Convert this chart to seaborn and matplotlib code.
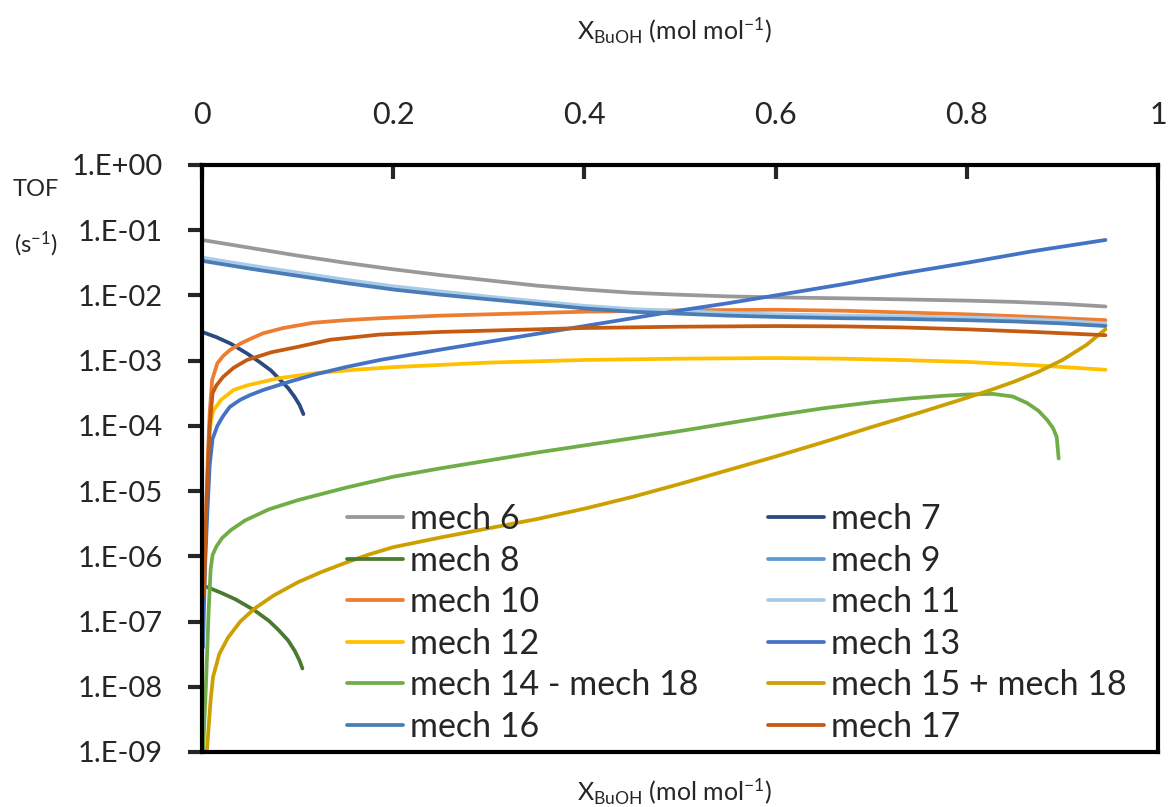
import numpy as np
import pandas as pd
import matplotlib
matplotlib.use("Agg")
import matplotlib.pyplot as plt
from matplotlib.ticker import FixedLocator, FuncFormatter, NullLocator
import seaborn as sns

# values: x = X_BuOH, values are log10(TOF / s-1)
mech6_x = [0.0, 0.05, 0.1, 0.15, 0.2, 0.25, 0.3, 0.35, 0.4, 0.45, 0.5, 0.55, 0.6, 0.67, 0.73, 0.8, 0.85, 0.9, 0.945]
mech6_log = [-1.15, -1.27, -1.39, -1.5, -1.6, -1.69, -1.77, -1.85, -1.91, -1.96, -1.99, -2.015, -2.03, -2.045, -2.06, -2.08, -2.1, -2.13, -2.17]

mech7_x = [0.0, 0.015, 0.03, 0.047, 0.06, 0.072, 0.082, 0.09, 0.097, 0.102, 0.106]
mech7_log = [-2.56, -2.64, -2.74, -2.89, -3.02, -3.15, -3.3, -3.42, -3.56, -3.68, -3.82]

mech8_x = [0.005, 0.02, 0.035, 0.055, 0.07, 0.08, 0.09, 0.097, 0.102, 0.105]
mech8_log = [-6.47, -6.56, -6.66, -6.83, -6.99, -7.13, -7.29, -7.45, -7.6, -7.72]

mech9_x = [0.0, 0.05, 0.1, 0.15, 0.2, 0.25, 0.3, 0.35, 0.4, 0.45, 0.5, 0.55, 0.6, 0.67, 0.73, 0.8, 0.85, 0.9, 0.945]
mech9_log = [-1.45, -1.57, -1.68, -1.79, -1.89, -1.97, -2.04, -2.11, -2.18, -2.23, -2.26, -2.29, -2.31, -2.33, -2.34, -2.36, -2.38, -2.41, -2.45]

mech10_x = [0.002, 0.004, 0.006, 0.008, 0.0105, 0.016, 0.022, 0.029, 0.04, 0.05, 0.064, 0.085, 0.116, 0.15, 0.186, 0.25, 0.3, 0.4, 0.5, 0.6, 0.67, 0.73, 0.8, 0.87, 0.945]
mech10_log = [-6.7, -5.5, -4.5, -3.8, -3.3, -3.04, -2.93, -2.84, -2.74, -2.67, -2.58, -2.5, -2.42, -2.38, -2.35, -2.31, -2.29, -2.25, -2.23, -2.22, -2.235, -2.26, -2.29, -2.33, -2.38]

mech11_x = [0.0, 0.05, 0.1, 0.15, 0.2, 0.25, 0.3, 0.35, 0.4, 0.45, 0.5, 0.55, 0.6, 0.67, 0.73, 0.8, 0.85, 0.9, 0.945]
mech11_log = [-1.42, -1.54, -1.65, -1.76, -1.86, -1.94, -2.02, -2.09, -2.16, -2.21, -2.24, -2.27, -2.29, -2.31, -2.32, -2.34, -2.36, -2.39, -2.43]

mech12_x = [0.005, 0.007, 0.008, 0.01, 0.012, 0.02, 0.033, 0.047, 0.065, 0.08, 0.12, 0.16, 0.2, 0.3, 0.4, 0.5, 0.6, 0.67, 0.73, 0.8, 0.87, 0.945]
mech12_log = [-5.3, -4.4, -4.07, -3.88, -3.76, -3.6, -3.45, -3.38, -3.32, -3.27, -3.19, -3.14, -3.1, -3.03, -2.99, -2.97, -2.96, -2.97, -2.99, -3.02, -3.07, -3.14]

mech13_x = [0.001, 0.003, 0.005, 0.008, 0.011, 0.016, 0.022, 0.029, 0.04, 0.05, 0.064, 0.09, 0.116, 0.15, 0.186, 0.25, 0.3, 0.35, 0.4, 0.45, 0.5, 0.55, 0.6, 0.67, 0.73, 0.8, 0.87, 0.945]
mech13_log = [-7.4, -6.2, -5.5, -4.6, -4.2, -4.0, -3.85, -3.71, -3.6, -3.53, -3.45, -3.33, -3.22, -3.1, -2.99, -2.83, -2.71, -2.59, -2.47, -2.35, -2.23, -2.12, -2.0, -1.83, -1.67, -1.5, -1.32, -1.15]

mech14_18_x = [0.001, 0.004, 0.007, 0.009, 0.011, 0.015, 0.021, 0.03, 0.045, 0.07, 0.1, 0.15, 0.2, 0.25, 0.3, 0.35, 0.4, 0.45, 0.5, 0.55, 0.6, 0.65, 0.7, 0.74, 0.775, 0.8, 0.827, 0.848, 0.863, 0.875, 0.884, 0.89, 0.894, 0.896]
mech14_18_log = [-9.0, -8.0, -6.8, -6.2, -5.98, -5.85, -5.72, -5.6, -5.45, -5.28, -5.14, -4.95, -4.78, -4.65, -4.53, -4.41, -4.3, -4.19, -4.08, -3.96, -3.84, -3.73, -3.64, -3.58, -3.54, -3.52, -3.51, -3.55, -3.65, -3.77, -3.91, -4.03, -4.17, -4.5]

mech15_18_x = [0.005, 0.007, 0.009, 0.0115, 0.018, 0.027, 0.04, 0.055, 0.075, 0.1, 0.125, 0.15, 0.175, 0.2, 0.25, 0.3, 0.35, 0.4, 0.45, 0.5, 0.55, 0.6, 0.65, 0.7, 0.75, 0.8, 0.825, 0.85, 0.875, 0.9, 0.925, 0.945]
mech15_18_log = [-9.0, -8.6, -8.2, -7.85, -7.5, -7.25, -7.0, -6.8, -6.6, -6.4, -6.24, -6.1, -5.97, -5.86, -5.71, -5.57, -5.43, -5.27, -5.09, -4.89, -4.68, -4.47, -4.25, -4.02, -3.8, -3.57, -3.45, -3.32, -3.17, -2.99, -2.76, -2.52]

mech16_x = [0.0, 0.05, 0.1, 0.15, 0.2, 0.25, 0.3, 0.35, 0.4, 0.45, 0.5, 0.55, 0.6, 0.67, 0.73, 0.8, 0.85, 0.9, 0.945]
mech16_log = [-1.47, -1.59, -1.7, -1.81, -1.91, -1.99, -2.06, -2.13, -2.2, -2.25, -2.28, -2.31, -2.33, -2.35, -2.36, -2.38, -2.4, -2.43, -2.47]

mech17_x = [0.002, 0.005, 0.008, 0.011, 0.015, 0.022, 0.033, 0.047, 0.073, 0.1, 0.134, 0.186, 0.25, 0.3, 0.4, 0.5, 0.6, 0.67, 0.73, 0.8, 0.87, 0.945]
mech17_log = [-6.6, -5.0, -4.0, -3.5, -3.38, -3.25, -3.11, -2.99, -2.87, -2.79, -2.68, -2.6, -2.56, -2.54, -2.5, -2.48, -2.47, -2.475, -2.49, -2.52, -2.56, -2.61]

labels = ["mech 6", "mech 7", "mech 8", "mech 9", "mech 10", "mech 11",
          "mech 12", "mech 13", "mech 14 - mech 18", "mech 15 + mech 18",
          "mech 16", "mech 17"]
colors = ["#999999", "#2a4a80", "#4a7a2e", "#5b9bd5", "#ed7d31", "#a9cbea",
          "#ffc000", "#4472c4", "#70ad47", "#cca000", "#4a7db5", "#c55a11"]

series_x = [mech6_x, mech7_x, mech8_x, mech9_x, mech10_x, mech11_x,
            mech12_x, mech13_x, mech14_18_x, mech15_18_x, mech16_x, mech17_x]
series_log = [mech6_log, mech7_log, mech8_log, mech9_log, mech10_log, mech11_log,
              mech12_log, mech13_log, mech14_18_log, mech15_18_log, mech16_log, mech17_log]

y_ticks = [10.0 ** k for k in range(-9, 1)]
x_ticks = [0, 0.2, 0.4, 0.6, 0.8, 1]

# long table for seaborn
frames = []
for name, xs, ls in zip(labels, series_x, series_log):
    frames.append(pd.DataFrame({"x": xs, "tof": np.power(10.0, ls), "mech": name}))
df = pd.concat(frames, ignore_index=True)

sns.set_style("white")
plt.rcParams["font.family"] = ["Lato", "DejaVu Sans"]
plt.rcParams["mathtext.fontset"] = "custom"
plt.rcParams["mathtext.rm"] = "Lato"
plt.rcParams["mathtext.it"] = "Lato:italic"
plt.rcParams["mathtext.bf"] = "Lato:bold"

fig = plt.figure(figsize=(11.72, 8.07), dpi=100)
ax = fig.add_axes([0.1724, 0.0682, 0.8157, 0.7274])

sns.lineplot(data=df, x="x", y="tof", hue="mech", hue_order=labels,
             palette=dict(zip(labels, colors)), sort=False, estimator=None,
             linewidth=2.7, ax=ax)

ax.set_yscale("log")
ax.set_ylim(1e-9, 1)
ax.set_xlim(0, 1)
ax.yaxis.set_major_locator(FixedLocator(y_ticks))
ax.yaxis.set_minor_locator(NullLocator())
ax.yaxis.set_major_formatter(FuncFormatter(lambda v, p: "1.E" + format(int(round(np.log10(v))), "+03d")))
ax.xaxis.set_major_locator(FixedLocator(x_ticks))
ax.xaxis.set_major_formatter(FuncFormatter(lambda v, p: "%g" % v))
ax.xaxis.tick_top()
ax.tick_params(axis="x", direction="in", length=10, width=3, top=True, bottom=False,
               labeltop=True, labelbottom=False, labelsize=22, pad=26)
ax.tick_params(axis="y", direction="out", length=10, width=3, left=True,
               labelsize=21, pad=18)
ax.set_xlabel("")
ax.set_ylabel("")
for side in ["left", "top", "bottom", "right"]:
    ax.spines[side].set_visible(True)
    ax.spines[side].set_color("black")
    ax.spines[side].set_linewidth(3)

# Excel fills the legend row by row; matplotlib fills by column
handles, labs = ax.get_legend_handles_labels()
order = list(range(0, len(labs), 2)) + list(range(1, len(labs), 2))
ax.legend([handles[i] for i in order], [labs[i] for i in order], ncol=2,
          frameon=False, fontsize=24.5,
          loc="upper left", bbox_to_anchor=(347 / 1172, 1 - 503 / 807),
          bbox_transform=fig.transFigure, borderaxespad=0, borderpad=0,
          handlelength=1.65, handletextpad=0.2, columnspacing=2.05, labelspacing=0.28)

xlab = r"X$_{\mathrm{BuOH}}$ (mol mol$^{-1}$)"
fig.text(675 / 1172, 1 - 31 / 807, xlab, fontsize=18, ha="center", va="center")
fig.text(675 / 1172, 1 - 792 / 807, xlab, fontsize=18, ha="center", va="center")
fig.text(36 / 1172, 1 - 190 / 807, "TOF", fontsize=17, ha="center", va="center")
fig.text(36 / 1172, 1 - 244 / 807, r"(s$^{-1}$)", fontsize=17, ha="center", va="center")

fig.savefig("out.png", dpi=100)
